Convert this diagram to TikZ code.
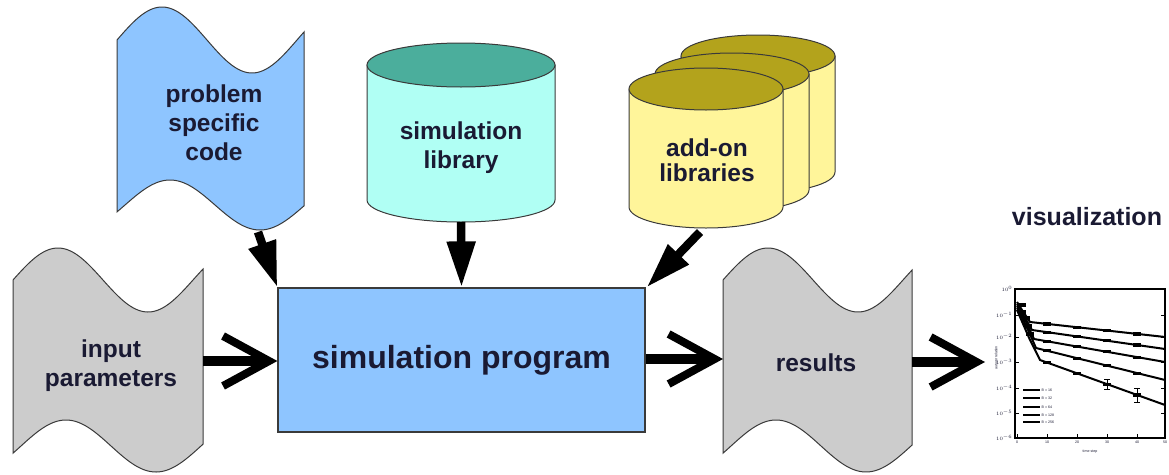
\documentclass[tikz,border=0pt]{standalone}
\usepackage{fontspec}
\setmainfont{Liberation Sans}
\usetikzlibrary{arrows.meta,calc}

\definecolor{progblue}{HTML}{8EC5FF}
\definecolor{tapegray}{HTML}{CCCCCC}
\definecolor{libbody}{HTML}{B0FFF4}
\definecolor{libtop}{HTML}{4BAE9C}
\definecolor{addbody}{HTML}{FFF59A}
\definecolor{addtop}{HTML}{B3A31C}
\definecolor{ink}{HTML}{1A1A33}
\definecolor{edge}{HTML}{3A3A3A}

% punched tape: style, left x, width, top centre, top amplitude, bottom centre, bottom amplitude
\newcommand{\tapepath}[7]{%
  \path[#1] plot[domain=0:#3, samples=90, variable=\t] ({#2+\t},{#4-#5*sin(2*\t)})
    -- plot[domain=#3:0, samples=90, variable=\t] ({#2+\t},{#6-#7*sin(2*\t-16)}) -- cycle;}

% cylinder: centre x, top centre y, bottom centre y, x radius, y radius, body colour, top colour
\newcommand{\drumshape}[7]{%
  \draw[shapeline, fill=#6] (#1-#4,#2) -- (#1-#4,#3)
    arc[start angle=180, end angle=0, x radius=#4, y radius=#5] -- (#1+#4,#2) -- cycle;
  \draw[shapeline, fill=#7] (#1,#2) ellipse[x radius=#4, y radius=#5];}

\begin{document}
\begin{tikzpicture}[x=1pt, y=-1pt,
  shapeline/.style={draw=edge, line width=1pt},
  lbl/.style={align=center, text=ink, font=\fontsize{24.5}{29}\selectfont\bfseries, inner sep=0pt},
  progbox/.style={draw=edge, line width=1.2pt, fill=progblue, text=ink,
    font=\fontsize{32}{36}\selectfont\bfseries, minimum width=367pt, minimum height=144pt, inner sep=0pt},
  feed/.style={line width=8.5pt, -{Triangle[length=46pt, width=27pt]}},
  chev/.style={line width=10pt, -{Straight Barb[length=46pt, width=50pt, line width=8pt]}},
  curve/.style={line width=2pt, black},
  tiny/.style={font=\fontsize{3.6}{4}\selectfont, text=ink, inner sep=0.5pt}]

\useasboundingbox (0,0) rectangle (1169,474);

% ---- tapes ----
\tapepath{shapeline, fill=progblue}{117}{187}{40}{33}{205}{25}
\tapepath{shapeline, fill=tapegray}{13}{190}{280}{32}{446}{26}
\tapepath{shapeline, fill=tapegray}{723}{189}{280}{32}{446}{26}

\node[lbl] (code) at (214,123) {problem\\specific\\code};
\node[lbl] (input) at (111,366) {input\\parameters};
\node[lbl] (results) at (816,363) {results};

% ---- simulation library ----
\drumshape{461}{65}{200}{94}{22}{libbody}{libtop}
\node[lbl] (simlib) at (461,148) {simulation\\library};

% ---- stacked add-on libraries ----
\drumshape{758}{56}{172}{77}{21}{addbody}{addtop}
\drumshape{732}{74}{190}{77}{21}{addbody}{addtop}
\drumshape{706}{89}{207}{77}{21}{addbody}{addtop}
\node[lbl, font=\fontsize{24.5}{25}\selectfont\bfseries] (addon) at (707,160) {add-on\\libraries};

% ---- central program ----
\node[progbox] (prog) at (461.5,360) {simulation program};

% ---- connector end points ----
\coordinate (codeOut) at (258,232);
\coordinate (libOut) at (461,222);
\coordinate (addOut) at (700,232);
\coordinate (inOut) at (203,361);
\coordinate (resIn) at (723,359);
\coordinate (resOut) at (912,362);
\coordinate (visIn) at (985,362);

\draw[feed] (codeOut) -- (prog.north west);
\draw[feed] (libOut) -- (prog.north);
\draw[feed] (addOut) -- ([xshift=1pt]prog.north east);
\draw[chev] (inOut) -- (inOut -| prog.west);
\draw[chev] (resIn -| prog.east) -- (resIn);
\draw[chev] (resOut) -- (visIn);

% ---- visualization ----
\node[lbl, font=\fontsize{25}{29}\selectfont\bfseries] (vis) at (1087,217) {visualization};

\draw[line width=1.6pt] (1015,289) rectangle (1165,438);
\foreach \yy/\e in {289/0,315/-1,337/-2,362/-3,388/-4,413/-5,438/-6}{
  \draw[line width=0.8pt] (1015,\yy) -- (1019,\yy);
  \draw[line width=0.8pt] (1165,\yy) -- (1161,\yy);
  \node[tiny, anchor=east] at (1013,\yy) {$10^{\e}$};}
\foreach \xx/\v in {1017/0,1047/10,1077/20,1107/30,1137/40,1165/50}{
  \draw[line width=0.8pt] (\xx,438) -- (\xx,434);
  \node[tiny, anchor=north] at (\xx,440) {\v};}
\node[tiny, rotate=90] at (996,358) {autocorrelation};
\node[tiny] at (1090,452) {time step};

% decay curves with their data markers
\draw[curve] (1017,302) -- (1022,310) -- (1030,322) -- (1165,337);
\draw[curve] (1017,304) -- (1024,316) -- (1032,330) -- (1165,349);
\draw[curve] (1017,306) -- (1026,322) -- (1034,339) -- (1165,362);
\draw[curve] (1017,308) -- (1028,330) -- (1036,348) -- (1165,380);
\draw[curve] (1017,310) -- (1030,340) -- (1040,360) -- (1165,405);
\foreach \xx/\yy in {
  1047/323.9,1077/327.2,1107/330.6,1137/333.9,
  1047/332.1,1077/336.4,1107/340.7,1137/345,
  1047/341.3,1077/346.6,1107/351.8,1137/357.1,
  1047/350.7,1077/358.2,1107/365.6,1137/373.1,
  1047/362.5,1077/373.3,1107/384.1,1137/394.9,
  1022/305,1022/312,1026/318,1028/326,1030/334}{
  \fill (\xx-4,\yy-1.6) rectangle (\xx+4,\yy+1.6);}
\foreach \xx/\yy/\d in {1107/384.1/5, 1137/394.9/7}{
  \draw[line width=0.8pt] (\xx,\yy-\d) -- (\xx,\yy+\d);
  \draw[line width=0.8pt] (\xx-3,\yy-\d) -- (\xx+3,\yy-\d) (\xx-3,\yy+\d) -- (\xx+3,\yy+\d);}

\foreach \yy/\lab in {390/{B = 16},398/{B = 32},407/{B = 64},415/{B = 128},422/{B = 256}}{
  \draw[line width=1.8pt] (1023,\yy) -- (1040,\yy);
  \node[tiny, anchor=west] at (1041,\yy) {\lab};}
\end{tikzpicture}
\end{document}
